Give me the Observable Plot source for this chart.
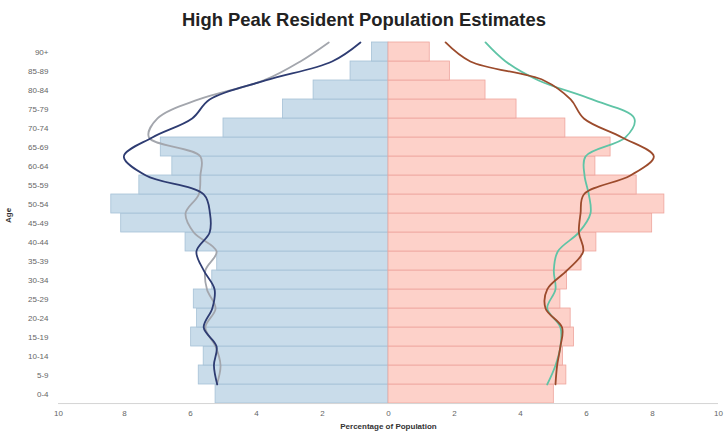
<!DOCTYPE html>
<html><head><meta charset="utf-8">
<script src="https://cdn.jsdelivr.net/npm/d3@7"></script>
<script src="https://cdn.jsdelivr.net/npm/@observablehq/plot@0.6"></script>
<style>
body{margin:0;background:#fff;font-family:"Liberation Sans",Arial,sans-serif;}
#title{height:32px;line-height:40px;text-align:center;font-weight:bold;font-size:18.4px;color:#222;}
</style></head><body>
<div id="title">High Peak Resident Population Estimates</div>
<div id="chart"></div>
<script>
// Age groups, bottom to top
const ages = ["0-4","5-9","10-14","15-19","20-24","25-29","30-34","35-39","40-44","45-49","50-54","55-59","60-64","65-69","70-74","75-79","80-84","85-89","90+"];
// High Peak bars (% of each sex)
const maleBars   = [5.24,5.75,5.6,5.98,5.8,5.9,5.34,5.19,6.15,8.1,8.4,7.55,6.55,6.9,5.0,3.2,2.27,1.15,0.5];
const femaleBars = [5.01,5.39,5.29,5.62,5.52,5.21,5.41,5.85,6.3,7.99,8.36,7.52,6.27,6.73,5.36,3.88,2.94,1.86,1.25];
// Comparison lines
const maleLineA   = [5.19,5.29,5.21,5.6,5.34,5.27,5.6,5.82,5.42,5.41,5.6,7.35,8.02,7.16,5.95,5.42,3.73,1.71,0.85];
const maleLineB   = [5.2,5.09,5.24,5.55,5.24,5.5,5.55,5.21,5.9,6.15,5.75,5.7,5.7,7.26,7.0,5.75,3.78,2.67,1.81];
const femaleLineA = [5.06,5.11,5.21,5.26,4.76,4.81,5.41,5.9,5.77,5.82,5.92,7.33,8.04,7.08,5.92,5.52,4.71,2.48,1.73];
const femaleLineB = [4.81,5.06,5.21,5.21,4.81,5.06,5.01,5.13,5.77,6.12,6.07,5.94,5.97,7.18,7.45,6.17,4.55,3.55,2.94];
const xTicks = [-10,-8,-6,-4,-2,0,2,4,6,8,10];

const H = 405, mt = 9, mb = 33;
const bw = (H - mt - mb) / ages.length;
const rows = (vals, sign) => ages.map((a, i) => ({age: a, v: sign * vals[i]}));

const chart = Plot.plot({
  width: 728, height: H,
  marginLeft: 58, marginRight: 10, marginTop: mt, marginBottom: mb,
  style: {fontSize: "8px", fontFamily: "'Liberation Sans', Arial, sans-serif", color: "#666", background: "white"},
  x: {domain: [-10, 10], ticks: xTicks, tickFormat: d => Math.abs(d), tickSize: 0, tickPadding: 6, label: null},
  y: {domain: ages.slice().reverse(), padding: 0, tickSize: 0, tickPadding: 10, label: null},
  marks: [
    Plot.barX(rows(maleBars, -1), {x1: 0, x2: "v", y: "age", fill: "#c9dcea", stroke: "#a6c1d6", strokeWidth: 0.8}),
    Plot.barX(rows(femaleBars, 1), {x1: 0, x2: "v", y: "age", fill: "#fdd1c9", stroke: "#eea59d", strokeWidth: 0.8}),
    Plot.ruleY([ages[0]], {dy: bw / 2, stroke: "#d4d4d4", strokeWidth: 1}),
    Plot.line(rows(maleLineB, -1), {x: "v", y: "age", dy: -bw / 2, curve: "catmull-rom", stroke: "#a3a6ad", strokeWidth: 1.8}),
    Plot.line(rows(maleLineA, -1), {x: "v", y: "age", dy: -bw / 2, curve: "catmull-rom", stroke: "#2e3c72", strokeWidth: 1.8}),
    Plot.line(rows(femaleLineB, 1), {x: "v", y: "age", dy: -bw / 2, curve: "catmull-rom", stroke: "#5fc4a6", strokeWidth: 1.8}),
    Plot.line(rows(femaleLineA, 1), {x: "v", y: "age", dy: -bw / 2, curve: "catmull-rom", stroke: "#9c4b2c", strokeWidth: 1.8}),
    Plot.text(["Age"], {text: d => d, frameAnchor: "left", rotate: -90, dx: -50, fontWeight: "bold", fill: "#333"}),
    Plot.text(["Percentage of Population"], {text: d => d, frameAnchor: "bottom", dy: 24, fontWeight: "bold", fill: "#333"})
  ]
});
document.getElementById("chart").appendChild(chart);
</script>
</body></html>
